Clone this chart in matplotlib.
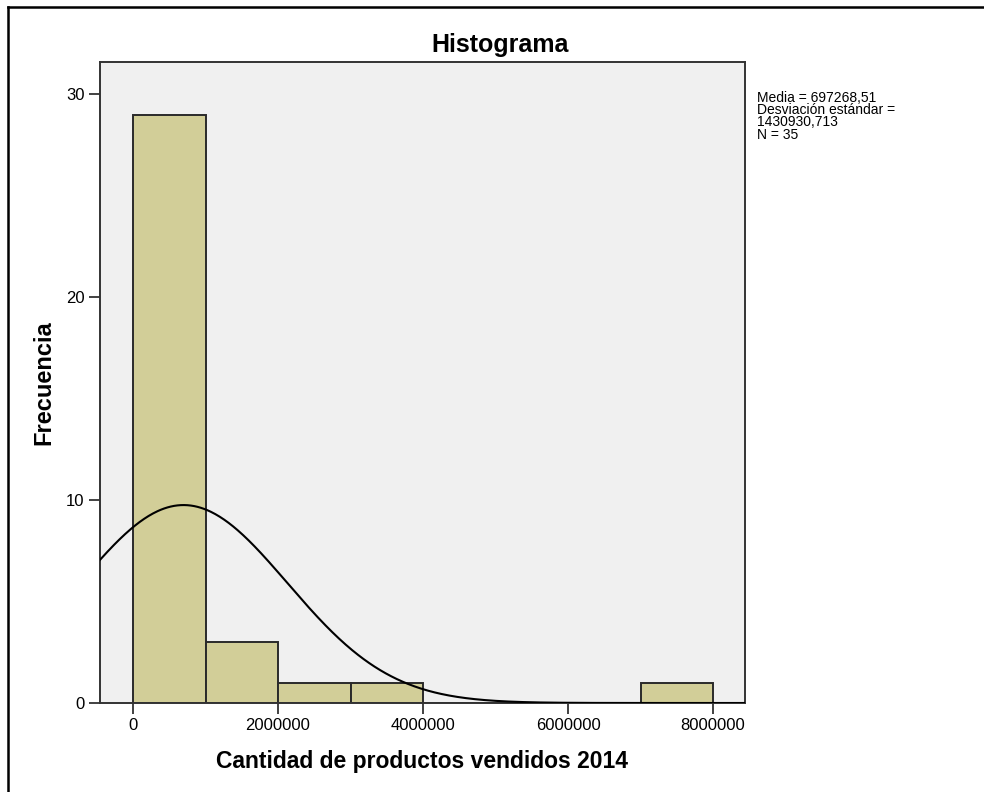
import numpy as np
import matplotlib
matplotlib.use("Agg")
import matplotlib.pyplot as plt
from matplotlib import font_manager

# Histogram bins (units sold) and their frequencies
bin_edges = [0, 1000000, 2000000, 3000000, 4000000, 5000000, 6000000, 7000000, 8000000]
counts = [29, 3, 1, 1, 0, 0, 0, 1]

# Summary statistics
media = 697268.51
desviacion = 1430930.713
n_total = 35

x_ticks = [0, 2000000, 4000000, 6000000, 8000000]
y_ticks = [0, 10, 20, 30]

base_font = "Liberation Sans"
names = {f.name for f in font_manager.fontManager.ttflist}
narrow_font = "Liberation Sans Narrow" if "Liberation Sans Narrow" in names else base_font
plt.rcParams["font.family"] = [base_font, "DejaVu Sans"]

W, H = 984, 792
fig = plt.figure(figsize=(W / 100, H / 100), dpi=100)
fig.patch.set_facecolor("white")

# Outer frame (left and top edges visible)
fig.add_artist(plt.Line2D([8 / W, 8 / W], [0, 1 - 7 / H], transform=fig.transFigure,
                          color="black", lw=1.8))
fig.add_artist(plt.Line2D([8 / W, 1], [1 - 7 / H, 1 - 7 / H], transform=fig.transFigure,
                          color="black", lw=1.8))

left, right, top, bottom = 100, 745, 62, 703
ax = fig.add_axes([left / W, 1 - bottom / H, (right - left) / W, (bottom - top) / H])
ax.set_facecolor("#F0F0F0")

widths = np.diff(bin_edges)
ax.bar(bin_edges[:-1], counts, width=widths, align="edge", color="#D2CE98",
       edgecolor="#2a2a2a", linewidth=1.4, zorder=2)

# Normal curve scaled to the histogram
bw = bin_edges[1] - bin_edges[0]
xs = np.linspace(-600000, 8600000, 600)
ys = n_total * bw / (desviacion * np.sqrt(2 * np.pi)) * np.exp(-0.5 * ((xs - media) / desviacion) ** 2)
ax.plot(xs, ys, color="black", lw=1.5, zorder=3)

ax.set_xlim(-455000, 8440000)
ax.set_ylim(0, 31.6)
ax.set_xticks(x_ticks)
ax.set_xticklabels([str(v) for v in x_ticks])
ax.set_yticks(y_ticks)
ax.tick_params(axis="both", direction="out", length=8, width=1.3, color="#333333",
               labelsize=12, pad=3)
for s in ax.spines.values():
    s.set_color("#333333")
    s.set_linewidth(1.4)

ax.set_xlabel("Cantidad de productos vendidos 2014", fontsize=16.5, fontweight="bold", labelpad=12)
ax.set_ylabel("Frecuencia", fontsize=17, fontweight="bold", labelpad=8)

fig.text(500 / W, 1 - 45 / H, "Histograma", fontsize=18, fontweight="bold",
         ha="center", va="center")

stats = (f"Media = {media:.2f}".replace(".", ",") + "\n"
         "Desviación estándar =\n" + f"{desviacion:.3f}".replace(".", ",") + "\n"
         f"N = {n_total}")
fig.text(757 / W, 1 - 91 / H, stats, fontsize=10, family=[narrow_font, "DejaVu Sans"],
         ha="left", va="top", linespacing=0.84)

fig.savefig("out.png", dpi=100, facecolor="white")
